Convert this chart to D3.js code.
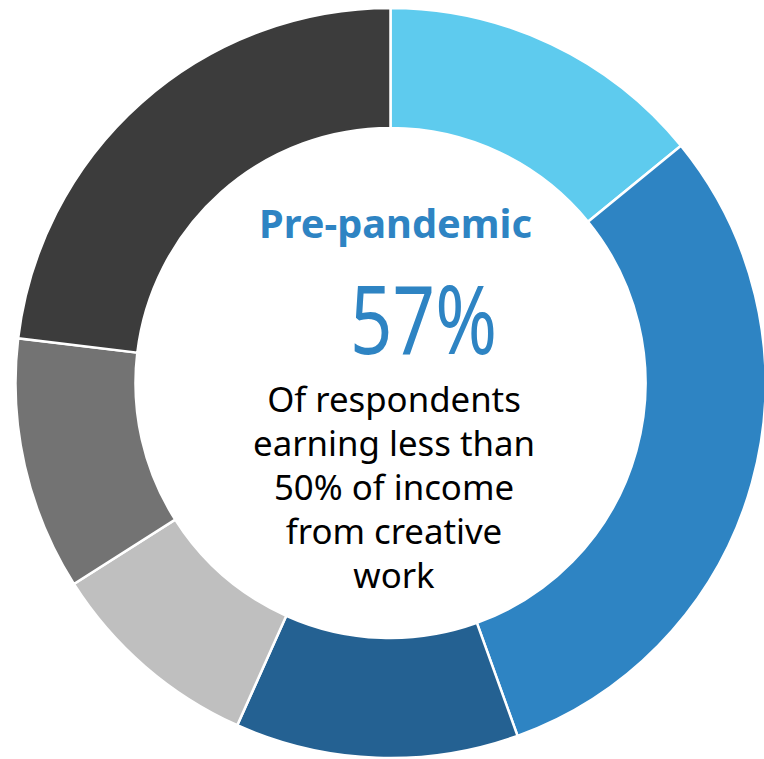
<!DOCTYPE html>
<html>
<head>
<meta charset="utf-8">
<script src="https://cdn.jsdelivr.net/npm/d3@7"></script>
<style>
  html, body { margin: 0; padding: 0; background: #fff; }
  svg { display: block; }
  text { font-family: "Noto Sans", "Open Sans", sans-serif; }
</style>
</head>
<body>
<svg id="chart" width="764" height="759"></svg>
<script>
// Income-share segments, clockwise from 12 o'clock (percent of respondents)
const categories = ["0–24% (a)", "25–49% (b)", "25–49% (c)", "50–74%", "75–99%", "100%"];
const values = [14.1, 30.4, 12.2, 9.3, 10.9, 23.1];
const colors = ["#5ecbee", "#2e84c3", "#246192", "#bfbfbf", "#737373", "#3c3c3c"];

const headline = "Pre-pandemic";
const bigStat = "57%";
const captionLines = ["Of respondents", "earning less than", "50% of income", "from creative", "work"];

const svg = d3.select("#chart");
const cx = 390.5, cy = 383, outerR = 375, innerR = 255;

const pie = d3.pie().sort(null).value(d => d)(values);
const arc = d3.arc().innerRadius(innerR).outerRadius(outerR);

const g = svg.append("g").attr("transform", `translate(${cx},${cy})`);
g.selectAll("path")
  .data(pie)
  .join("path")
  .attr("d", arc)
  .attr("fill", (d, i) => colors[i])
  .attr("stroke", "#fff")
  .attr("stroke-width", 2.5)
  .attr("stroke-linejoin", "miter");

// Fit a text element horizontally to a target width around its centre
function fitWidth(sel, target, centerX, baseline) {
  const w = sel.node().getComputedTextLength();
  const k = target / w;
  sel.attr("x", 0).attr("y", 0)
     .attr("transform", `translate(${centerX},${baseline}) scale(${k},1)`);
}

const title = svg.append("text")
  .attr("text-anchor", "middle")
  .attr("font-weight", "bold")
  .attr("font-size", 39)
  .attr("fill", "#2e84c3")
  .text(headline);
fitWidth(title, 273, 395.5, 238);

const stat = svg.append("text")
  .attr("text-anchor", "middle")
  .attr("font-size", 95)
  .attr("fill", "#2e84c3")
  .text(bigStat);
fitWidth(stat, 147, 423.5, 354);

const cap = svg.append("g");
const lineNodes = captionLines.map((t, i) =>
  cap.append("text")
    .attr("text-anchor", "middle")
    .attr("font-size", 34)
    .attr("fill", "#000")
    .text(t));
const widest = d3.max(lineNodes, s => s.node().getComputedTextLength());
const kx = 282 / widest;
lineNodes.forEach((s, i) => {
  s.attr("x", 0).attr("y", 0)
   .attr("transform", `translate(394,${412 + 44 * i}) scale(${kx},1)`);
});
</script>
</body>
</html>
